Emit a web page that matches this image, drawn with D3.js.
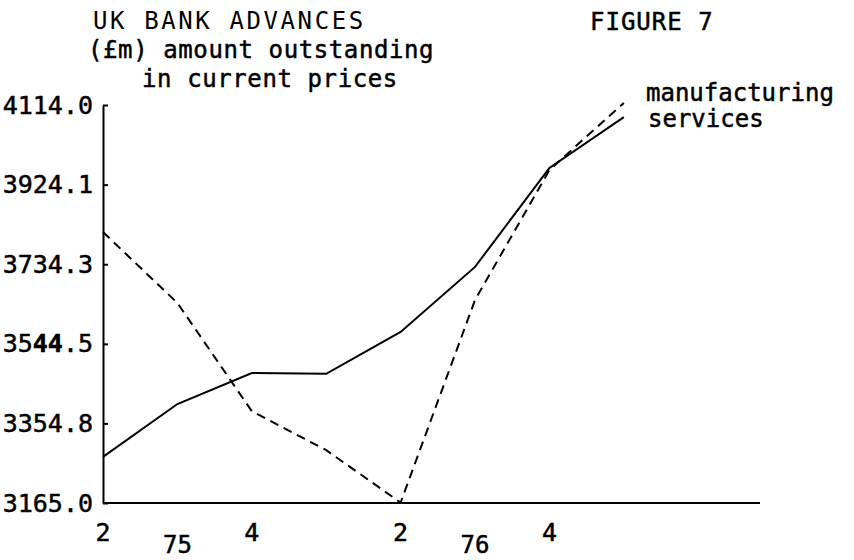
<!DOCTYPE html>
<html>
<head>
<meta charset="utf-8">
<script src="https://cdn.jsdelivr.net/npm/d3@7/dist/d3.min.js"></script>
<style>
  body { margin: 0; background: #fff; }
  text { font-family: "DejaVu Sans Mono", "Liberation Mono", monospace; fill: #000; }
  text.heavy { stroke: #000; stroke-width: 0.5; }
  .line { fill: none; stroke: #000; stroke-width: 2; }
  .dashed { stroke-dasharray: 9 6; }
  .axis path, .axis line { stroke: #000; stroke-width: 2; }
</style>
</head>
<body>
<script>
  // quarters 1975 Q2 .. 1977 Q1
  var quarters = ["1975Q2", "1975Q3", "1975Q4", "1976Q1", "1976Q2", "1976Q3", "1976Q4", "1977Q1"];
  var manufacturing = [3811, 3642, 3384, 3291, 3166, 3649, 3959, 4119];
  var services = [3275, 3401, 3475, 3473, 3573, 3728, 3964, 4085];
  var yTicks = [3165.0, 3354.8, 3544.5, 3734.3, 3924.1, 4114.0];
  var quarterLabels = [[0, "2"], [2, "4"], [4, "2"], [6, "4"]];
  var yearLabels = [[1, "75"], [5, "76"]];

  var width = 854, height = 560;

  var svg = d3.select("body").append("svg")
      .attr("width", width)
      .attr("height", height);

  var xScale = d3.scaleLinear()
      .domain([0, 8.83])
      .range([103, 760]);
  var yScale = d3.scaleLinear()
      .domain([3165, 4114])
      .range([503, 105]);

  // axis-y
  var yAxis = svg.append("g")
      .attr("class", "axis axis--y")
      .attr("transform", "translate(" + xScale(0) + ",0)")
      .call(d3.axisLeft(yScale).tickValues(yTicks).tickSize(-5).tickSizeOuter(0).tickPadding(10)
        .tickFormat(function(d) { return d3.format(".1f")(d); }));
  yAxis.selectAll("text")
      .attr("class", "heavy")
      .attr("font-size", 25)
      .attr("font-family", null)
      .each(function(d) {
        // the 44 in 3544.5 is struck over twice in the original
        if (d === 3544.5) {
          var t = d3.select(this).text("");
          t.append("tspan").text("35");
          t.append("tspan").attr("font-weight", "bold").text("44");
          t.append("tspan").text(".5");
        }
      });

  // axis-x
  svg.append("line")
      .attr("x1", xScale(0)).attr("x2", xScale(8.83))
      .attr("y1", yScale(3165)).attr("y2", yScale(3165))
      .attr("stroke", "#000").attr("stroke-width", 2);

  svg.selectAll(".qlab")
    .data(quarterLabels)
    .enter().append("text")
      .attr("class", "qlab heavy")
      .attr("x", function(d) { return xScale(d[0]); })
      .attr("y", 541)
      .attr("text-anchor", "middle")
      .attr("font-size", 25)
      .text(function(d) { return d[1]; });

  svg.selectAll(".ylab")
    .data(yearLabels)
    .enter().append("text")
      .attr("class", "ylab heavy")
      .attr("x", function(d) { return xScale(d[0]); })
      .attr("y", 553)
      .attr("text-anchor", "middle")
      .attr("font-size", 24)
      .text(function(d) { return d[1]; });

  var line = d3.line()
      .x(function(d, i) { return xScale(i); })
      .y(function(d) { return yScale(d); });

  svg.append("path")
    .attr("class", "line")
    .attr("d", line(services));

  svg.append("path")
    .attr("class", "line dashed")
    .attr("d", line(manufacturing));

  // titles
  svg.append("text").attr("x", 93).attr("y", 29).attr("font-size", 24)
    .attr("letter-spacing", 2.6).text("UK BANK ADVANCES");
  svg.append("text").attr("class", "heavy").attr("x", 88).attr("y", 58).attr("font-size", 24)
    .attr("letter-spacing", 0.6).text("(£m) amount outstanding");
  svg.append("text").attr("class", "heavy").attr("x", 142).attr("y", 87).attr("font-size", 24)
    .attr("letter-spacing", 0.6).text("in current prices");
  svg.append("text").attr("class", "heavy").attr("x", 590).attr("y", 30).attr("font-size", 24)
    .attr("letter-spacing", 1).text("FIGURE 7");

  // legend
  svg.append("text").attr("class", "heavy").attr("x", 646).attr("y", 101).attr("font-size", 24)
    .text("manufacturing");
  svg.append("text").attr("class", "heavy").attr("x", 648).attr("y", 127).attr("font-size", 24)
    .text("services");
</script>
</body>
</html>
